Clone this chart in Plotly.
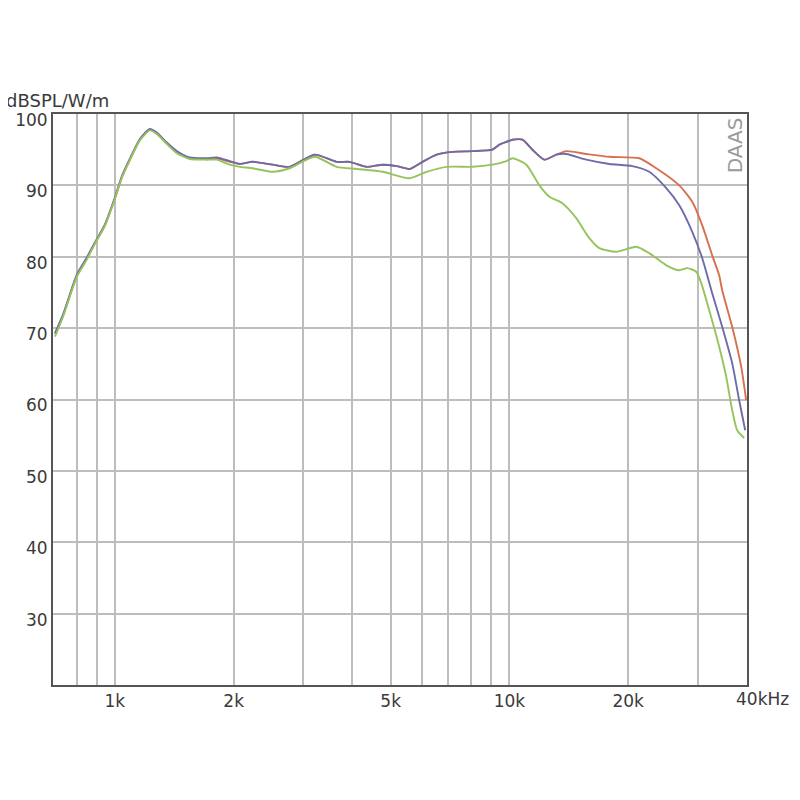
import plotly.graph_objects as go

# Frequencies in kHz, levels in dB SPL
low_f = [0.705, 0.739, 0.801, 0.849, 0.890, 0.943, 1.000, 1.042, 1.091, 1.157, 1.226,
         1.277, 1.354, 1.435, 1.548, 1.710, 1.812, 1.955]
low_db = [69.2, 71.8, 77.4, 79.8, 81.9, 84.4, 88.2, 91.2, 93.6, 96.4, 97.8,
          97.3, 95.9, 94.7, 93.8, 93.7, 93.8, 93.3]

mid_f = [2.073, 2.235, 2.512, 2.773, 3.208, 3.648, 3.935, 4.345, 4.770, 5.176, 5.583,
         6.022, 6.536, 7.172, 8.061, 9.057, 9.434, 9.826, 10.18, 10.79, 11.43, 12.27, 13.15]
mid_db = [93.0, 93.3, 92.9, 92.6, 94.3, 93.3, 93.3, 92.6, 92.9, 92.7, 92.3,
          93.3, 94.3, 94.7, 94.8, 95.0, 95.7, 96.1, 96.4, 96.4, 95.0, 93.6, 94.3]

red_hf = [13.94, 15.66, 17.92, 21.34, 23.56, 26.94, 29.06, 30.81, 32.65, 34.01, 34.61,
          36.69, 38.67, 39.81]
red_hdb = [94.8, 94.4, 94.0, 93.8, 92.4, 90.0, 87.7, 84.4, 80.2, 77.4, 75.3,
           70.2, 64.6, 59.9]

blue_hf = [13.94, 15.66, 17.92, 20.49, 22.61, 24.98, 26.94, 29.06, 30.81, 31.71, 32.65,
           34.61, 36.69, 38.22, 39.58]
blue_hdb = [94.4, 93.6, 93.0, 92.7, 91.9, 89.6, 87.2, 83.5, 79.8, 77.4, 74.9,
            70.2, 65.1, 59.9, 55.7]

green_f = [0.705, 0.739, 0.801, 0.849, 0.890, 0.943, 1.000, 1.042, 1.091, 1.157, 1.226,
           1.277, 1.354, 1.435, 1.548, 1.710, 1.812, 1.955,
           2.073, 2.235, 2.512, 2.773, 3.208, 3.648, 4.100, 4.770, 5.583, 6.165, 6.928,
           8.061, 9.057, 9.826, 10.18, 11.04, 11.91, 12.63, 13.62, 14.77, 15.94, 16.90,
           18.66, 20.97, 22.61, 24.98, 26.94, 28.22, 29.74, 30.63, 32.09, 34.01, 35.43,
           36.69, 37.77, 39.35]
green_db = [68.8, 71.6, 77.2, 79.6, 81.8, 84.3, 88.1, 91.1, 93.5, 96.3, 97.7,
            97.2, 95.8, 94.5, 93.7, 93.6, 93.6, 92.9,
            92.6, 92.4, 91.9, 92.4, 94.0, 92.6, 92.3, 91.9, 91.0, 91.9, 92.6,
            92.6, 92.9, 93.4, 93.8, 92.9, 90.0, 88.4, 87.5, 85.4, 82.6, 81.2,
            80.7, 81.4, 80.5, 78.8, 78.1, 78.4, 77.9, 76.3, 72.5, 67.4, 63.2,
            58.5, 55.7, 54.6]

red_f = low_f + mid_f + red_hf
red_db = low_db + mid_db + red_hdb
blue_f = low_f + mid_f + blue_hf
blue_db = [v + 0.1 for v in low_db] + mid_db + blue_hdb

grid_f = [0.8, 0.9, 1, 2, 3, 4, 5, 6, 7, 8, 9, 10, 20, 30]
grid_lbl = ["", "", "1k", "2k", "", "", "5k", "", "", "", "", "10k", "20k", ""]
y_ticks = [30, 40, 50, 60, 70, 80, 90, 100]

FONT = "DejaVu Sans, Verdana, sans-serif"
TXT = "#3a3a3a"

fig = go.Figure()
for f, d, c in [(red_f, red_db, "#d8704f"), (blue_f, blue_db, "#6e6ca8"), (green_f, green_db, "#95c35c")]:
    fig.add_trace(go.Scatter(x=[v * 1000 for v in f], y=d, mode="lines",
                             line=dict(color=c, width=1.9, shape="spline", smoothing=0.6),
                             showlegend=False, hoverinfo="skip"))

fig.update_layout(
    width=800, height=800,
    margin=dict(l=45, r=61, t=106, b=123),
    paper_bgcolor="white", plot_bgcolor="white",
    font=dict(family=FONT, size=17, color=TXT),
    xaxis=dict(type="log", range=[2.8432, 4.6021], automargin=False,
               tickvals=[v * 1000 for v in grid_f], ticktext=grid_lbl,
               showgrid=True, gridcolor="#bdbdbd", gridwidth=1.6,
               showline=True, linecolor="#555555", linewidth=2, mirror=True,
               ticks="", zeroline=False, tickfont=dict(family=FONT, size=17, color=TXT)),
    yaxis=dict(range=[20, 100], tickvals=y_ticks, automargin=False,
               ticklabelshift=6,
               showgrid=True, gridcolor="#bdbdbd", gridwidth=1.6,
               showline=True, linecolor="#555555", linewidth=2, mirror=True,
               ticks="", zeroline=False, tickfont=dict(family=FONT, size=17, color=TXT)),
    annotations=[
        dict(text="dBSPL/W/m", xref="paper", yref="paper", x=-0.0706, y=1.0245,
             xanchor="left", yanchor="middle", showarrow=False,
             font=dict(family=FONT, size=18, color=TXT)),
        dict(text="40kHz", xref="paper", yref="paper", x=0.981, y=-0.0245,
             xanchor="left", yanchor="middle", showarrow=False,
             font=dict(family=FONT, size=17, color=TXT)),
        dict(text="DAAS", xref="paper", yref="paper", x=0.983, y=0.9457,
             xanchor="center", yanchor="middle", showarrow=False, textangle=-90,
             font=dict(family=FONT, size=20, color="#999999")),
    ],
)

fig.write_html("out.html")
